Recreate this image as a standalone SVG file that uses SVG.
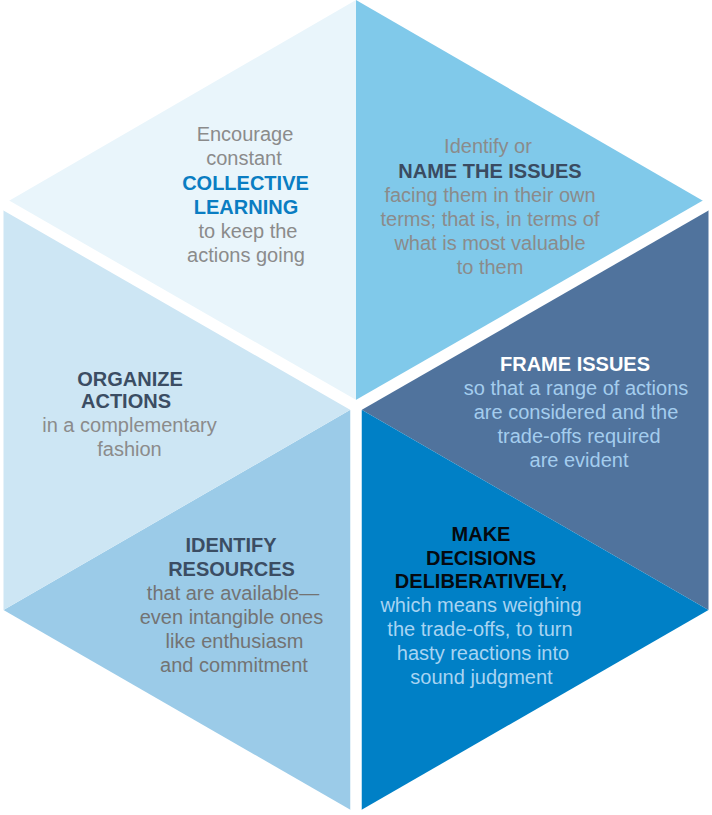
<svg xmlns="http://www.w3.org/2000/svg" width="712" height="815" viewBox="0 0 712 815">
<style>
text{font-family:"Liberation Sans",Arial,sans-serif;font-size:20px;text-anchor:middle}
.b{font-weight:bold}
.g{fill:#8b8b8b}
.dk{fill:#3b4d63}
.gap{stroke:#ffffff;stroke-width:11.5;fill:none}
</style>
<rect width="712" height="815" fill="#ffffff"/>
<g id="collective-learning">
<polygon points="356,0 356,406.5 3.5,204" fill="#e9f5fb"/>
<text x="245" y="141" class="g">Encourage</text>
<text x="244" y="165" class="g">constant</text>
<text x="245.5" y="189.5" class="b" fill="#0a7dc2">COLLECTIVE</text>
<text x="246" y="213.5" class="b" fill="#0a7dc2">LEARNING</text>
<text x="248" y="237.5" class="g">to keep the</text>
<text x="246" y="261.5" class="g">actions going</text>
</g>
<g id="name-the-issues">
<polygon points="356,0 708.5,204 356,406.5" fill="#80c9ea"/>
<text x="488" y="153" class="g">Identify or</text>
<text x="490" y="177.5" class="b" fill="#3a4b61">NAME THE ISSUES</text>
<text x="490" y="201.5" class="g">facing them in their own</text>
<text x="490" y="225.5" class="g">terms; that is, in terms of</text>
<text x="490" y="249.5" class="g">what is most valuable</text>
<text x="490" y="273.5" class="g">to them</text>
</g>
<g id="frame-issues">
<polygon points="708.5,204 708.5,610 356,406.5" fill="#50739d"/>
<text x="575" y="371" class="b" fill="#ffffff">FRAME ISSUES</text>
<text x="576" y="395" fill="#a4cdee">so that a range of actions</text>
<text x="576" y="419" fill="#a4cdee">are considered and the</text>
<text x="579" y="443" fill="#a4cdee">trade-offs required</text>
<text x="579" y="467" fill="#a4cdee">are evident</text>
</g>
<g id="make-decisions">
<polygon points="356,406.5 708.5,610 356,813" fill="#0080c6"/>
<text x="481" y="541" class="b" fill="#050a10">MAKE</text>
<text x="481" y="564.5" class="b" fill="#050a10">DECISIONS</text>
<text x="481" y="587.5" class="b" fill="#050a10">DELIBERATIVELY,</text>
<text x="481" y="611.5" fill="#a8d4f2">which means weighing</text>
<text x="480" y="635.5" fill="#a8d4f2">the trade-offs, to turn</text>
<text x="483" y="659.5" fill="#a8d4f2">hasty reactions into</text>
<text x="481.5" y="683.5" fill="#a8d4f2">sound judgment</text>
</g>
<g id="identify-resources">
<polygon points="356,406.5 356,813 3.5,610" fill="#9bcbe8"/>
<text x="231" y="552" class="b dk">IDENTIFY</text>
<text x="231.5" y="576" class="b dk">RESOURCES</text>
<text x="233" y="600" fill="#737373">that are available—</text>
<text x="231.5" y="624" fill="#737373">even intangible ones</text>
<text x="234.5" y="648" fill="#737373">like enthusiasm</text>
<text x="234" y="672" fill="#737373">and commitment</text>
</g>
<g id="organize-actions">
<polygon points="3.5,204 356,406.5 3.5,610" fill="#cde6f4"/>
<text x="130" y="385.5" class="b dk">ORGANIZE</text>
<text x="126" y="407.5" class="b dk">ACTIONS</text>
<text x="129.5" y="432" class="g">in a complementary</text>
<text x="129.5" y="455.5" class="g">fashion</text>
</g>
<g id="connectors">
<line class="gap" x1="356" y1="406.5" x2="-10" y2="196.2"/>
<line class="gap" x1="356" y1="406.5" x2="722" y2="196.2"/>
<line class="gap" x1="356" y1="406.5" x2="356" y2="830"/>
<circle cx="356" cy="406.5" r="5.75" fill="#ffffff"/>
</g>
</svg>
